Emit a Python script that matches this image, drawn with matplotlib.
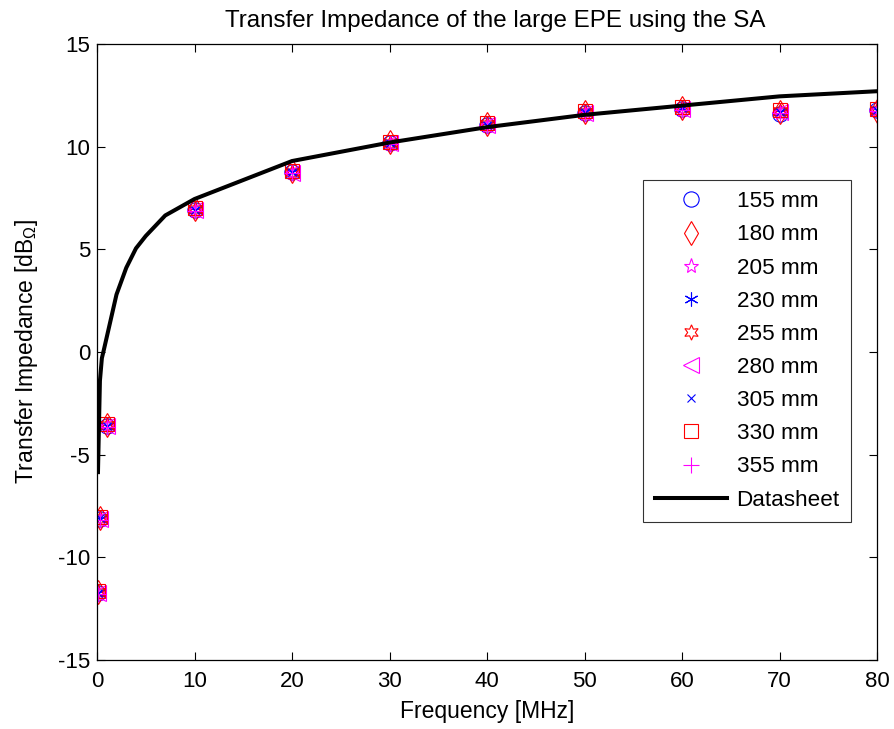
import matplotlib
matplotlib.use("Agg")
import matplotlib.pyplot as plt

plt.rcParams['font.family'] = ['Liberation Sans', 'DejaVu Sans']
plt.rcParams['mathtext.fontset'] = 'custom'
plt.rcParams['mathtext.rm'] = 'Liberation Sans'
plt.rcParams['mathtext.it'] = 'Liberation Sans'
plt.rcParams['axes.unicode_minus'] = False

# Measurement frequencies [MHz]
freq_meas = [0.1, 0.3, 1, 10, 20, 30, 40, 50, 60, 70, 80]

# Measured transfer impedance [dB_Ohm] per electrode spacing
z_155 = [-11.75, -8.15, -3.6, 6.9, 8.75, 10.2, 11.05, 11.65, 11.85, 11.6, 11.8]
z_180 = [-11.7, -8.1, -3.55, 6.95, 8.8, 10.25, 11.1, 11.7, 11.9, 11.7, 11.75]
z_205 = [-11.8, -8.2, -3.6, 6.85, 8.7, 10.15, 11.0, 11.6, 11.8, 11.65, 11.8]
z_230 = [-11.75, -8.15, -3.6, 6.9, 8.75, 10.2, 11.05, 11.7, 11.9, 11.7, 11.8]
z_255 = [-11.7, -8.1, -3.55, 6.95, 8.75, 10.2, 11.1, 11.7, 11.9, 11.75, 11.8]
z_280 = [-11.75, -8.15, -3.6, 6.9, 8.7, 10.2, 11.05, 11.65, 11.85, 11.7, 11.8]
z_305 = [-11.75, -8.1, -3.6, 6.9, 8.75, 10.2, 11.05, 11.7, 11.9, 11.7, 11.8]
z_330 = [-11.65, -8.05, -3.5, 7.0, 8.8, 10.25, 11.15, 11.75, 11.95, 11.8, 11.85]
z_355 = [-11.8, -8.2, -3.65, 6.85, 8.7, 10.15, 11.0, 11.6, 11.8, 11.65, 11.75]

series_labels = ['155 mm', '180 mm', '205 mm', '230 mm', '255 mm',
                 '280 mm', '305 mm', '330 mm', '355 mm']
series_values = [z_155, z_180, z_205, z_230, z_255, z_280, z_305, z_330, z_355]

# Datasheet curve
freq_ds = [0.1, 0.3, 0.5, 0.7, 2, 3, 4, 5, 7, 10, 20, 30, 40, 50, 60, 70, 80]
z_ds = [-5.85, -1.4, -0.3, 0.1, 2.8, 4.1, 5.05, 5.65, 6.65, 7.45, 9.3,
        10.2, 10.95, 11.55, 12.0, 12.45, 12.7]

blue, red, mag = '#0000ff', '#ff0000', '#ff00ff'
styles = [
    dict(marker='o', color=blue, ms=11),
    dict(marker='d', color=red, ms=12),
    dict(marker='*', color=mag, ms=11),
    dict(marker=(6, 2, 0), color=blue, ms=10),
    dict(marker=(6, 1, 0), color=red, ms=11),
    dict(marker='<', color=mag, ms=12),
    dict(marker='x', color=blue, ms=6),
    dict(marker='s', color=red, ms=10),
    dict(marker='+', color=mag, ms=12),
]

fig = plt.figure(figsize=(8.94, 7.29), dpi=100)
ax = fig.add_axes([97 / 894, 1 - 660 / 729, 780 / 894, 616 / 729])

for lab, vals, st in zip(series_labels, series_values, styles):
    ax.plot(freq_meas, vals, linestyle='none', marker=st['marker'],
            markersize=st['ms'], markerfacecolor='none',
            markeredgecolor=st['color'], markeredgewidth=0.8, label=lab)

ax.plot(freq_ds, z_ds, color='black', linewidth=2.9, label='Datasheet')

ax.set_xlim(0, 80)
ax.set_ylim(-15, 15)
ax.set_xticks(range(0, 81, 10))
ax.set_yticks(range(-15, 16, 5))
ax.tick_params(direction='in', top=True, right=True, labelsize=16, length=6,
               width=0.8)
ax.tick_params(axis='x', pad=8)
ax.tick_params(axis='y', pad=5)
for s in ax.spines.values():
    s.set_linewidth(0.9)

ax.set_title('Transfer Impedance of the large EPE using the SA', fontsize=17.4,
             pad=12)
ax.title.set_x(0.5 + 8 / 780)
ax.set_xlabel('Frequency [MHz]', fontsize=16.5, labelpad=6)
ax.set_ylabel(r'Transfer Impedance [dB$_{\Omega}$]', fontsize=16.5,
              labelpad=13)

leg = ax.legend(loc='upper right', bbox_to_anchor=(851 / 894, 1 - 180 / 729),
                bbox_transform=fig.transFigure, fontsize=16.2, frameon=True,
                fancybox=False, edgecolor='black', borderpad=0.5,
                labelspacing=0.54, handlelength=3.2, handletextpad=0.45,
                borderaxespad=0)
leg.get_frame().set_linewidth(0.8)

fig.savefig('out.png', dpi=100)
